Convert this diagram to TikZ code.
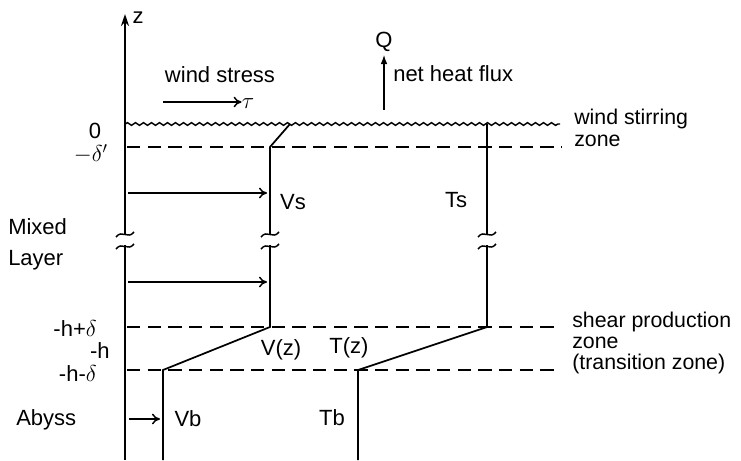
\documentclass[tikz,border=0pt]{standalone}
\usepackage{fontspec}
\setmainfont{Liberation Sans}
\usetikzlibrary{arrows.meta,decorations.pathmorphing}

\begin{document}
\begin{tikzpicture}[
    x=0.75pt, y=-0.75pt,
    every node/.style={font=\fontsize{16.5}{19}\selectfont, inner sep=0pt},
    multi/.style={anchor=west, align=left, font=\fontsize{16}{16}\selectfont},
    axisline/.style={line width=1.5pt},
    profile/.style={line width=1.3pt},
    level/.style={line width=1.3pt, dash pattern=on 10pt off 5.5pt},
    surface/.style={line width=1.1pt, decorate, decoration={snake, amplitude=1pt, segment length=6pt}},
    flow/.style={line width=1.1pt, -{To[length=6pt,width=8pt]}},
    brk/.style={line width=1.1pt}
]
    \useasboundingbox (0,0) rectangle (741,460);

    % --- z-Achse ---
    \coordinate (zbot) at (125,460);
    \coordinate (ztop) at (125,14);
    \draw[axisline, -{Stealth[length=9pt,width=6pt]}] (zbot) -- (ztop);
    \node (zlab) at (138,18) {z};

    % --- Oberflaeche & Niveaus ---
    \coordinate (sl) at (125,124);  \coordinate (sr) at (560,124);
    \draw[surface] (sl) -- (sr);
    \coordinate (d1l) at (127,147); \coordinate (d1r) at (562,147);
    \coordinate (d2l) at (127,327); \coordinate (d2r) at (556,327);
    \coordinate (d3l) at (127,370); \coordinate (d3r) at (558,370);
    \draw[level] (d1l) -- (d1r);
    \draw[level] (d2l) -- (d2r);
    \draw[level] (d3l) -- (d3r);

    % --- Profile V(z) und T(z) ---
    \coordinate (v0) at (290,124); \coordinate (v1) at (270,147);
    \coordinate (v2) at (270,327); \coordinate (v3) at (163,370); \coordinate (v4) at (163,460);
    \draw[profile] (v0) -- (v1) -- (v2) -- (v3) -- (v4);
    \coordinate (t0) at (487,124); \coordinate (t1) at (487,327);
    \coordinate (t2) at (358,370); \coordinate (t3) at (358,460);
    \draw[profile] (t0) -- (t1) -- (t2) -- (t3);

    % --- Bruchstellen ---
    \foreach \bx in {125,270,487} {
        \fill[white] (\bx-4,235) rectangle (\bx+4,245);
        \draw[brk] (\bx-9,237) .. controls (\bx-3,229) and (\bx+3,240) .. (\bx+9,232);
        \draw[brk] (\bx-9,249) .. controls (\bx-3,241) and (\bx+3,252) .. (\bx+9,244);
    }

    % --- Geschwindigkeitspfeile ---
    \coordinate (a1) at (128,193); \coordinate (b1) at (267,193);
    \coordinate (a2) at (128,282); \coordinate (b2) at (267,282);
    \coordinate (a3) at (129,419); \coordinate (b3) at (160,419);
    \draw[flow] (a1) -- (b1);
    \draw[flow] (a2) -- (b2);
    \draw[flow] (a3) -- (b3);

    % --- Antrieb an der Oberflaeche ---
    \node (wind) at (220,75) {wind stress};
    \node[font=\fontsize{19}{21}\selectfont] (tau) at (248,104) {$\tau$};
    \coordinate (wbase) at (163,102);
    \draw[flow] (wbase) -- (wbase -| tau.west);
    \node (Q) at (384,42) {Q};
    \coordinate (qbase) at (384,110);
    \draw[line width=1.1pt, -{Latex[length=7pt,width=5pt]}] (qbase) -- ([yshift=-2pt]Q.south);
    \node[anchor=west] (flux) at (393,74) {net heat flux};

    % --- Beschriftungen rechts ---
    \node[multi] (stir) at (574,128) {wind stirring\\zone};
    \node[multi] (shear) at (572,343) {shear production\\zone\\(transition zone)};

    % --- Beschriftungen links ---
    \node (zero) at (95,131) {0};
    \node[anchor=east] (dprime) at (108,154) {$-\delta'$};
    \node[anchor=west] (mixed) at (8,227) {Mixed};
    \node[anchor=west] (layer) at (8,260) {Layer};
    \node[anchor=east] (hp) at (97,328) {-h+$\delta$};
    \node[anchor=east] (hh) at (110,351) {-h};
    \node[anchor=east] (hm) at (97,373) {-h-$\delta$};
    \node[anchor=west] (abyss) at (16,420) {Abyss};

    % --- Profilnamen ---
    \node (Vs) at (293,202) {Vs};
    \node (Ts) at (456,200) {Ts};
    \node (Vz) at (281,350) {V(z)};
    \node (Tz) at (349,348) {T(z)};
    \node (Vb) at (188,419) {Vb};
    \node (Tb) at (332,418) {Tb};
\end{tikzpicture}
\end{document}
